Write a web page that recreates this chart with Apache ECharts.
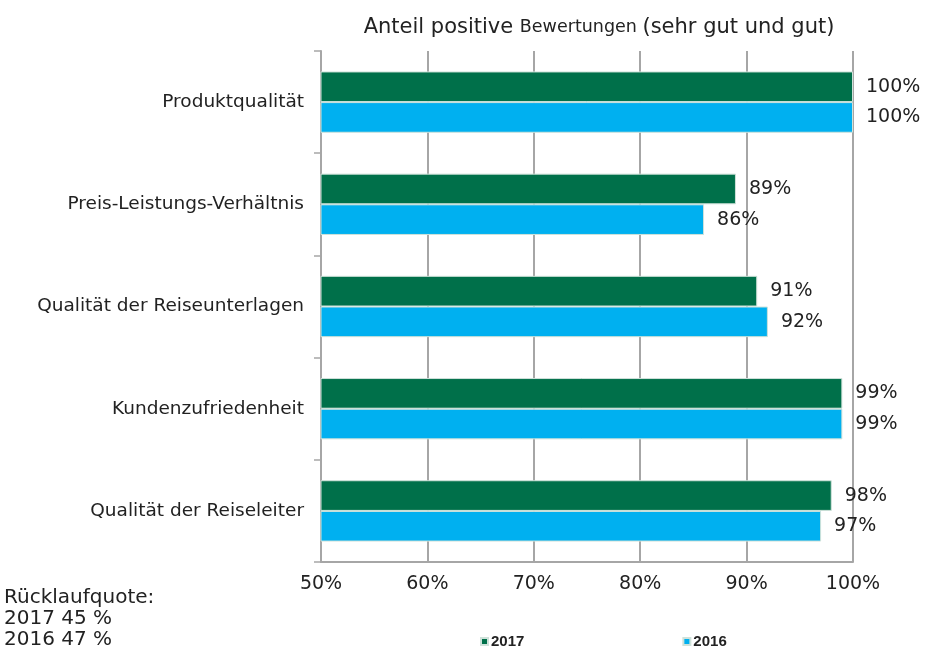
<!DOCTYPE html>
<html>
<head>
<meta charset="utf-8">
<script src="https://cdn.jsdelivr.net/npm/echarts@6/dist/echarts.min.js"></script>
<style>
  html, body { margin: 0; padding: 0; background: #fff; }
  #chart { width: 925px; height: 648px; }
</style>
</head>
<body>
<div id="chart"></div>
<script>
// Survey categories, top to bottom
const categories = [
  'Produktqualität',
  'Preis-Leistungs-Verhältnis',
  'Qualität der Reiseunterlagen',
  'Kundenzufriedenheit',
  'Qualität der Reiseleiter'
];
// Share of positive ratings in percent
const values2017 = [100, 89, 91, 99, 98];
const values2016 = [100, 86, 92, 99, 97];
const seriesNames = ['2017', '2016'];
const responseRates = ['Rücklaufquote:', '2017 45 %', '2016 47 %'];

const FONT = 'DejaVu Sans';
const TEXT = '#222222';
const GRID = '#a6a6a6';

const chart = echarts.init(document.getElementById('chart'), null, { renderer: 'canvas' });

const barLabel = {
  show: true,
  position: 'right',
  distance: 13,
  formatter: p => p.value + '%',
  color: TEXT,
  fontFamily: FONT,
  fontSize: 19
};

chart.setOption({
  animation: false,
  title: {
    text: '{a|Anteil positive }{b|Bewertungen }{a|(sehr gut und gut)}',
    left: 594,
    textAlign: 'center',
    top: 12,
    textStyle: {
      fontWeight: 'normal',
      rich: {
        a: { fontFamily: FONT, fontSize: 21, color: TEXT, fontWeight: 'normal' },
        b: { fontFamily: FONT, fontSize: 17.5, color: TEXT, fontWeight: 'normal' }
      }
    }
  },
  legend: {
    left: 475,
    top: 629,
    itemWidth: 7,
    itemHeight: 7,
    itemGap: 158,
    icon: 'rect',
    textStyle: { fontFamily: 'Liberation Sans', fontSize: 15, fontWeight: 'bold', color: TEXT, padding: [0, 0, 0, -2] },
    data: seriesNames
  },
  grid: { left: 321, right: 72, top: 51, bottom: 86, containLabel: false },
  xAxis: {
    type: 'value',
    min: 50,
    max: 100,
    interval: 10,
    axisLine: { show: true, lineStyle: { color: GRID, width: 2 } },
    axisTick: { show: false },
    splitLine: { show: true, lineStyle: { color: GRID, width: 2 } },
    axisLabel: {
      formatter: v => v + '%',
      color: TEXT,
      fontFamily: FONT,
      fontSize: 19,
      margin: 13
    }
  },
  yAxis: {
    type: 'category',
    data: categories,
    inverse: true,
    axisLine: { show: true, lineStyle: { color: GRID, width: 2 } },
    axisTick: { show: true, length: 7, lineStyle: { color: GRID, width: 1.5 } },
    axisLabel: { color: TEXT, fontFamily: FONT, fontSize: 18.5, margin: 17 }
  },
  series: [
    {
      name: seriesNames[0],
      type: 'bar',
      data: values2017,
      barGap: '0%',
      barCategoryGap: '40%',
      itemStyle: { color: '#00704a', borderColor: '#cfe2da', borderWidth: 1 },
      label: barLabel
    },
    {
      name: seriesNames[1],
      type: 'bar',
      data: values2016,
      itemStyle: { color: '#00b0f0', borderColor: '#cfe2da', borderWidth: 1 },
      label: barLabel
    }
  ],
  graphic: responseRates.map((t, i) => ({
    type: 'text',
    left: 4,
    top: 588 + i * 21,
    style: { text: t, fontFamily: FONT, fontSize: 20, fill: TEXT }
  }))
});
</script>
</body>
</html>
